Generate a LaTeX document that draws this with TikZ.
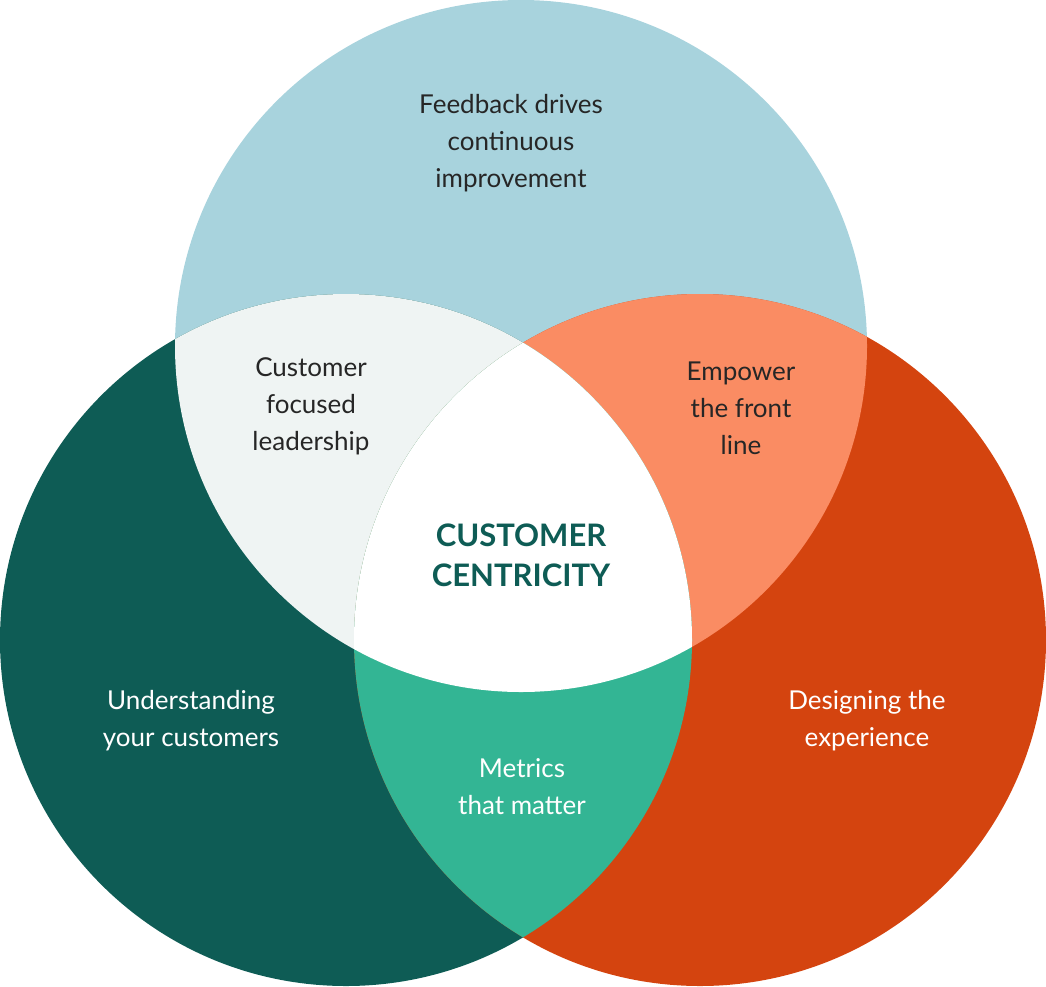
\documentclass[tikz,border=0pt]{standalone}
\usepackage{fontspec}
\setmainfont{Lato}
\begin{document}
\begin{tikzpicture}[x=1pt,y=-1pt,
  lbl/.style={align=center,font=\fontsize{26}{37}\selectfont,text=black!85},
  wlbl/.style={align=center,font=\fontsize{26}{37}\selectfont,text=white}]
\definecolor{cTop}{HTML}{A8D3DD}
\definecolor{cLeft}{HTML}{0E5C55}
\definecolor{cRight}{HTML}{D4440F}
\definecolor{cTL}{HTML}{EFF4F3}
\definecolor{cTR}{HTML}{FA8C63}
\definecolor{cLR}{HTML}{33B594}
\useasboundingbox (0,0) rectangle (1046,986);
\def\T{(521,346) circle (346)}
\def\L{(346,640) circle (346)}
\def\R{(700,640) circle (346)}
\fill[cTop] \T;
\fill[cLeft] \L;
\fill[cRight] \R;
\begin{scope}\clip \T; \fill[cTL] \L; \end{scope}
\begin{scope}\clip \T; \fill[cTR] \R; \end{scope}
\begin{scope}\clip \L; \fill[cLR] \R; \end{scope}
\begin{scope}\clip \T; \clip \L; \fill[white] \R; \end{scope}
\node[lbl] (fb) at (511,143) {Feedback drives\\continuous\\improvement};
\node[lbl] (cf) at (311,406) {Customer\\focused\\leadership};
\node[lbl] (ef) at (741,408) {Empower\\the front\\line};
\node[align=center,text=cLeft,font=\fontsize{31}{40}\selectfont\bfseries] (cc) at (521,555) {CUSTOMER\\CENTRICITY};
\node[wlbl] (uy) at (191,721) {Understanding\\your customers};
\node[wlbl] (de) at (867,721) {Designing the\\experience};
\node[wlbl] (mt) at (522,787) {Metrics\\that matter};
\end{tikzpicture}
\end{document}
